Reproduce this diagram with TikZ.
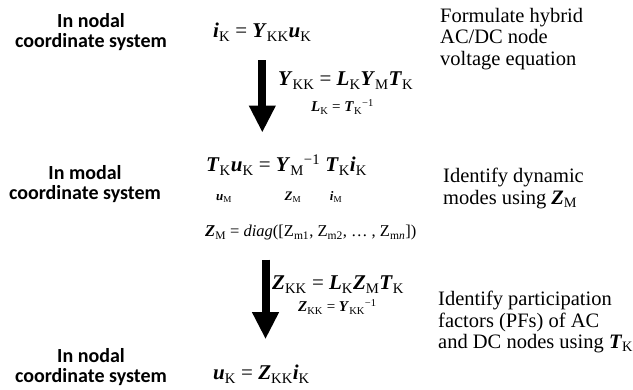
\documentclass[tikz,border=0pt]{standalone}
\usepackage{fontspec}
\setmainfont{Liberation Serif}
\newfontfamily\lblfont{Carlito}
\usetikzlibrary{arrows.meta,positioning,calc}
\newcommand{\bv}[1]{\textbf{\textit{#1}}}
\newcommand{\sbs}[1]{\textsubscript{#1}}
\newcommand{\inv}{\textsuperscript{−1}}
\tikzset{
  lbl/.style={font=\lblfont\bfseries\fontsize{20}{20.5}\selectfont, align=center,
              anchor=north, inner sep=0pt},
  eqn/.style={font=\fontsize{21}{24}\selectfont, anchor=base west, inner sep=0pt},
  eqs/.style={font=\fontsize{15}{18}\selectfont, anchor=base west, inner sep=0pt},
  tag/.style={font=\fontsize{13}{15}\selectfont, anchor=base, inner sep=0pt},
  note/.style={font=\fontsize{20.5}{21.5}\selectfont, align=left,
               anchor=north west, inner sep=0pt},
  bigarr/.style={-{Triangle[length=27pt,width=25pt]}, line width=8pt},
}

\begin{document}
\begin{tikzpicture}[x=1pt,y=-1pt]
\useasboundingbox (0,0) rectangle (633,390);

% --- left column: coordinate systems ---------------------------------
\node[lbl] (sys1) at (91,13) {In nodal\\coordinate system};
\node[lbl] (sys2) at (85,165) {In modal\\coordinate system};
\node[lbl] (sys3) at (91,348) {In nodal\\coordinate system};

% --- nodal equation ----------------------------------------------------
\node[eqn] (eq1) at (213,38)
  {\bv{i}\sbs{K} = \bv{Y}\sbs{KK}\bv{u}\sbs{K}};
\node[eqn] (ykk) at (278,86)
  {\bv{Y}\sbs{KK} = \bv{L}\sbs{K}\bv{Y}\sbs{M}\bv{T}\sbs{K}};
\node[eqs] (lk) at (311,112)
  {\bv{L}\sbs{K} = \bv{T}\sbs{K}\inv};

% --- modal equation ----------------------------------------------------
\node[eqn] (eq2) at (206,172)
  {\bv{T}\sbs{K}\bv{u}\sbs{K} = \bv{Y}\sbs{M}\inv{} \bv{T}\sbs{K}\bv{i}\sbs{K}};
\node[tag] (um) at (224,201) {\bv{u}\sbs{M}};
\node[tag] (zm) at (293,201) {\bv{Z}\sbs{M}};
\node[tag] (im) at (336,201) {\bv{i}\sbs{M}};
\node[eqn, font=\fontsize{16.5}{20}\selectfont] (diag) at (205,237)
  {\bv{Z}\sbs{M} = \textit{diag}([Z\sbs{m1}, Z\sbs{m2}, … , Z\sbs{m\textit{n}}])};

% --- back to nodal -----------------------------------------------------
\node[eqn] (zkk) at (272,290)
  {\bv{Z}\sbs{KK} = \bv{L}\sbs{K}\bv{Z}\sbs{M}\bv{T}\sbs{K}};
\node[eqs] (zkk2) at (298,312)
  {\bv{Z}\sbs{KK} = \bv{Y}\sbs{KK}\inv};
\node[eqn] (eq3) at (213,380)
  {\bv{u}\sbs{K} = \bv{Z}\sbs{KK}\bv{i}\sbs{K}};

% --- arrows --------------------------------------------------------------
\draw[bigarr] ([yshift=-19pt]eq1.south) -- ([yshift=22pt]eq1.south |- eq2.north);
\draw[bigarr] ([xshift=4pt,yshift=-19pt]eq3.north |- diag.south)
  -- ([xshift=4pt,yshift=26pt]eq3.north);

% --- right column: steps -----------------------------------------------
\node[note] (step1) at (440,8) {Formulate hybrid\\AC/DC node\\voltage equation};
\node[note] (step2) at (443,168) {Identify dynamic\\modes using \bv{Z}\sbs{M}};
\node[note] (step3) at (438,291)
  {Identify participation\\factors (PFs) of AC\\and DC nodes using \bv{T}\sbs{K}};
\end{tikzpicture}
\end{document}
